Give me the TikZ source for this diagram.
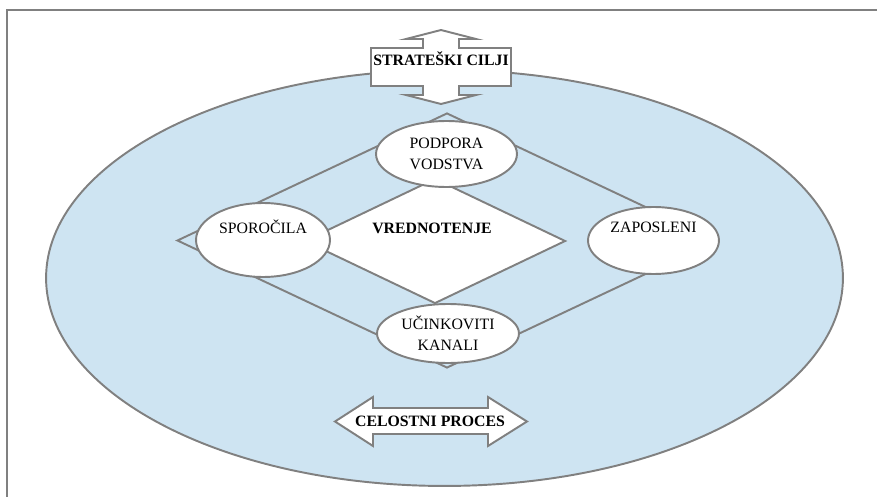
\documentclass[tikz,border=0pt]{standalone}
\usepackage{fontspec}
\setmainfont{Liberation Serif}
\usetikzlibrary{shapes.geometric}
\definecolor{ringblue}{RGB}{206,228,242}
\definecolor{edgegray}{RGB}{128,128,128}

\begin{document}
\begin{tikzpicture}[x=0.02cm,y=-0.02cm,
  outline/.style={draw=edgegray,line width=1.1pt},
  bubble/.style={ellipse,outline,fill=white,inner sep=0pt,align=center,font=\fontsize{9}{12}\selectfont},
  heading/.style={anchor=base,font=\fontsize{9}{12}\selectfont\bfseries}]
  \useasboundingbox (0,0) rectangle (877,497);
  \draw[edgegray,line width=0.8pt] (7,497)--(7,10)--(877,10);
  \node[ellipse,outline,fill=ringblue,minimum width=15.94cm,minimum height=8.32cm] (ring) at (444.5,278) {};
  \node[diamond,outline,inner sep=0pt,minimum width=10.8cm,minimum height=5.1cm] (outer) at (447,240.5) {};
  \node[diamond,outline,fill=white,inner sep=0pt,minimum width=5.22cm,minimum height=2.5cm] (inner) at (435,241) {};
  \node[heading] (vred) at (432,233) {VREDNOTENJE};
  \node[bubble,minimum width=2.82cm,minimum height=1.32cm] (podpora) at (446.5,154) {PODPORA\\VODSTVA};
  \node[bubble,minimum width=2.68cm,minimum height=1.48cm] (sporocila) at (263,240) {SPOROČILA\\\strut};
  \node[bubble,minimum width=2.62cm,minimum height=1.34cm] (zaposleni) at (653.5,240.5) {ZAPOSLENI\\\strut};
  \node[bubble,minimum width=2.84cm,minimum height=1.18cm] (kanali) at (448,333.5) {UČINKOVITI\\KANALI};
  \draw[outline,fill=white] (371,48)--(423,48)--(423,39)--(406,39)--(441,30)--(476,39)--(459,39)--(459,48)--(511,48)
    --(511,86)--(459,86)--(459,95)--(476,95)--(441,104)--(406,95)--(423,95)--(423,86)--(371,86)--cycle;
  \node[heading] (cilji) at (441,66) {STRATEŠKI CILJI};
  \draw[outline,fill=white] (335,421.5)--(373,397)--(373,408)--(488,408)--(488,397)--(527,421.5)--(488,446)--(488,434)
    --(373,434)--(373,446)--cycle;
  \node[heading] (proces) at (430,426) {CELOSTNI PROCES};
\end{tikzpicture}
\end{document}
